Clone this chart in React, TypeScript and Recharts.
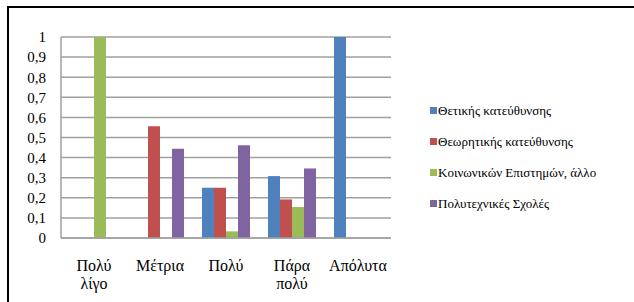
import React from 'react';
import { BarChart, Bar, XAxis, YAxis, CartesianGrid } from 'recharts';

// Answers (x axis categories)
const categories = ['Πολύ λίγο', 'Μέτρια', 'Πολύ', 'Πάρα πολύ', 'Απόλυτα'];

// Share of answers per school type
const thetikis = [0, 0, 0.25, 0.308, 1];
const theoritikis = [0, 0.556, 0.25, 0.192, 0];
const koinonikon = [1, 0, 0.033, 0.154, 0];
const polytexnikes = [0, 0.444, 0.462, 0.346, 0];

const yTicks = [0, 0.1, 0.2, 0.3, 0.4, 0.5, 0.6, 0.7, 0.8, 0.9, 1];

const series = [
  { key: 'thetikis', name: 'Θετικής κατεύθυνσης', color: '#4F81BD' },
  { key: 'theoritikis', name: 'Θεωρητικής κατεύθυνσης', color: '#C0504D' },
  { key: 'koinonikon', name: 'Κοινωνικών Επιστημών, άλλο', color: '#9BBB59' },
  { key: 'polytexnikes', name: 'Πολυτεχνικές Σχολές', color: '#8064A2' },
];

const data = categories.map((name, i) => ({
  name,
  thetikis: thetikis[i],
  theoritikis: theoritikis[i],
  koinonikon: koinonikon[i],
  polytexnikes: polytexnikes[i],
}));

const FONT = 'Liberation Serif';

// two-line category labels, split on the space
const CategoryTick = (props: any) => {
  const { x, y, payload } = props;
  const words = String(payload.value).split(' ');
  return (
    <text x={x} y={y} textAnchor="middle" fill="#000" fontSize={16} style={{ fontFamily: FONT }}>
      {words.map((w, i) => (
        <tspan key={i} x={x} dy={i === 0 ? 25 : 18}>{w}</tspan>
      ))}
    </text>
  );
};

const App: React.FC = () => {
  return (
    <div style={{ position: 'absolute', left: 0, top: 0, width: 634, height: 302, background: '#fff', overflow: 'hidden' }}>
      <div
        style={{
          position: 'absolute', left: 7, top: 6, width: 700, height: 400,
          borderLeft: '2px solid #000', borderTop: '2px solid #000',
        }}
      />
      <div style={{ position: 'absolute', left: 0, top: 0 }}>
        <BarChart
          width={634}
          height={302}
          data={data}
          margin={{ top: 37, right: 243, left: 11, bottom: 24 }}
          barCategoryGap={9}
          barGap={0}
        >
          <CartesianGrid vertical={false} stroke="#a0a0a0" strokeWidth={1.5} />
          <XAxis
            dataKey="name"
            height={40}
            tickLine={false}
            axisLine={{ stroke: '#a0a0a0', strokeWidth: 1.5 }}
            tick={<CategoryTick />}
            interval={0}
          />
          <YAxis
            width={50}
            domain={[0, 1]}
            ticks={yTicks}
            interval={0}
            tickLine={false}
            tickSize={0}
            tickMargin={15}
            axisLine={{ stroke: '#a0a0a0', strokeWidth: 1.5 }}
            tickFormatter={(v: number) => String(Math.round(v * 10) / 10).replace('.', ',')}
            tick={{ fill: '#000', fontSize: 15, style: { fontFamily: FONT } }}
          />
          {series.map(s => (
            <Bar key={s.key} dataKey={s.key} name={s.name} fill={s.color} isAnimationActive={false} />
          ))}
        </BarChart>
      </div>
      <div style={{ position: 'absolute', left: 430, top: 95, fontFamily: FONT, fontSize: 13, color: '#000' }}>
        {series.map(s => (
          <div key={s.key} style={{ display: 'flex', alignItems: 'center', height: 31 }}>
            <div style={{ width: 7, height: 7, background: s.color, marginRight: 1 }} />
            <span>{s.name}</span>
          </div>
        ))}
      </div>
    </div>
  );
};

export default App;
